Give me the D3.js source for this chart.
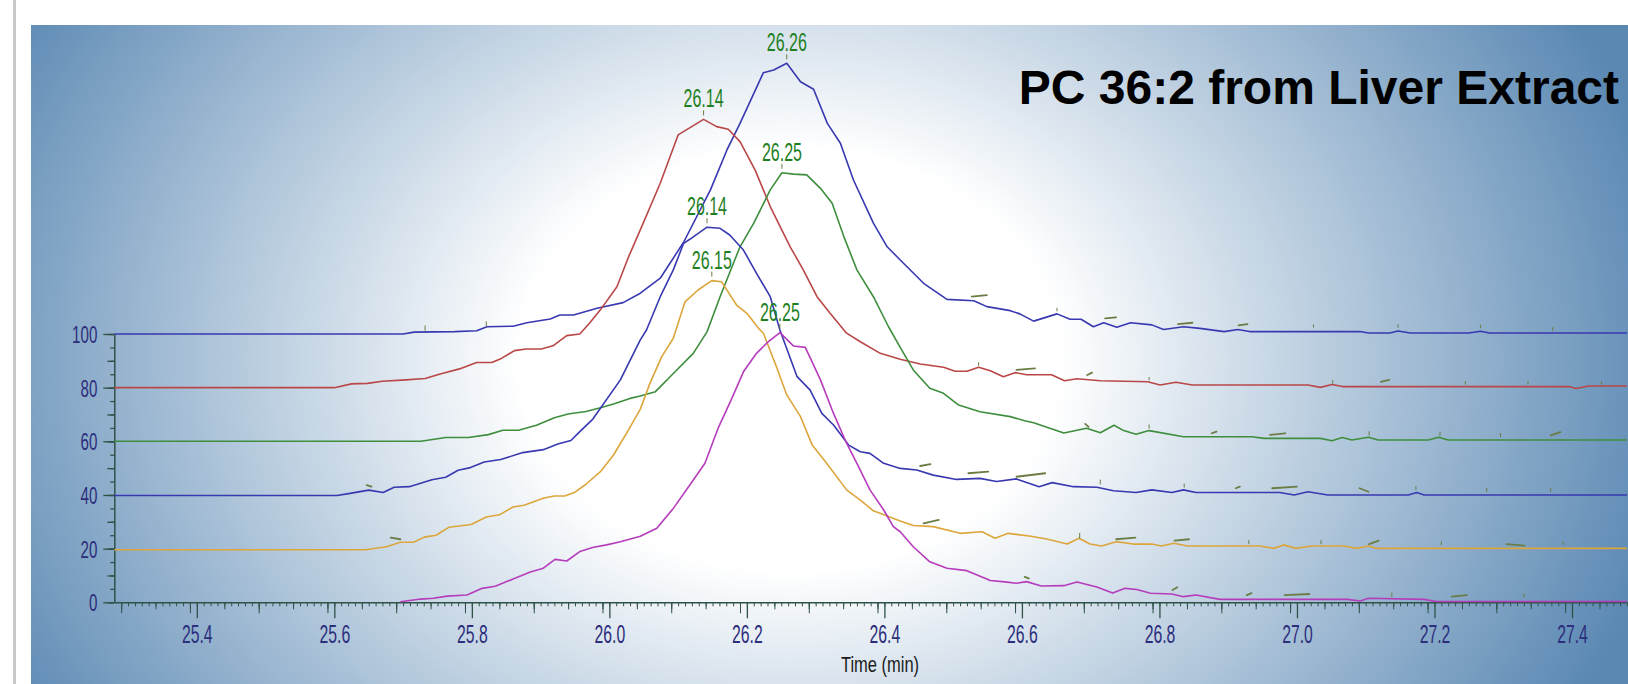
<!DOCTYPE html>
<html>
<head>
<meta charset="utf-8">
<script src="https://cdnjs.cloudflare.com/ajax/libs/d3/7.8.5/d3.min.js"></script>
<style>
  body { margin: 0; background: #fff; }
  svg { display: block; }
</style>
</head>
<body>
<div class="chart"></div>
<script>
// chart values: [time (min), signal]
const blue100 = [[25.28,100],[25.70,100],[25.716,100.7],[25.775,100.9],[25.807,101.2],[25.822,102.7],[25.86,102.9],[25.88,104.2],[25.914,105.6],[25.928,107.1],[25.948,107.1],[25.982,109.6],[26.02,111.7],[26.045,115.2],[26.074,120.8],[26.108,134.2],[26.147,153.7],[26.171,168.6],[26.19,178.5],[26.224,197.4],[26.239,198.4],[26.258,200.9],[26.278,194],[26.297,191.2],[26.317,178.5],[26.336,171.1],[26.355,157.4],[26.384,141.3],[26.404,132.5],[26.423,127.6],[26.457,118.9],[26.491,112.9],[26.53,112.4],[26.549,110.2],[26.583,108.7],[26.597,107.5],[26.617,104.8],[26.651,107.5],[26.67,105.5],[26.686,105.5],[26.704,102.7],[26.719,104.2],[26.738,102.5],[26.758,104.2],[26.789,103.4],[26.806,101.7],[26.835,102.7],[26.859,102.1],[26.894,100.9],[26.914,101.7],[26.931,100.9],[27.092,100.9],[27.104,100.4],[27.135,100.4],[27.147,101.1],[27.165,100.4],[27.25,100.4],[27.267,101],[27.28,100.4],[27.48,100.4]];
const red80 = [[25.28,80],[25.60,80],[25.625,81.4],[25.648,81.6],[25.67,82.4],[25.704,82.9],[25.732,83.4],[25.754,85.1],[25.782,87],[25.807,89.4],[25.829,89.4],[25.843,90.9],[25.862,93.8],[25.879,94.4],[25.901,94.4],[25.918,95.6],[25.938,99.4],[25.957,100],[25.971,104],[25.987,109],[26.011,117.6],[26.028,128.8],[26.045,138.8],[26.074,156.2],[26.1,174.2],[26.137,180],[26.156,177.3],[26.173,176.3],[26.19,171.7],[26.212,161.1],[26.234,147.5],[26.263,132.5],[26.282,123.9],[26.302,113.9],[26.321,107.7],[26.345,100.3],[26.365,97.1],[26.394,92.8],[26.423,90.6],[26.452,88.8],[26.486,87.6],[26.503,86.1],[26.52,86.1],[26.537,87.6],[26.554,86.3],[26.573,84.1],[26.59,85.6],[26.607,84.8],[26.643,84.8],[26.662,82.6],[26.68,83.3],[26.714,82.6],[26.783,82.2],[26.801,81],[26.824,82],[26.848,81],[27.016,81],[27.034,80.1],[27.051,81.2],[27.066,80.4],[27.395,80.4],[27.406,79.7],[27.424,80.6],[27.48,80.6]];
const green60 = [[25.28,60],[25.726,60],[25.762,61.4],[25.795,61.4],[25.824,62.5],[25.845,64.1],[25.868,64.1],[25.894,66],[25.92,68.8],[25.94,70.2],[25.966,71.1],[25.987,72.5],[26.006,73.9],[26.03,76],[26.045,76.9],[26.067,78.5],[26.093,85.3],[26.122,92.8],[26.142,100.8],[26.161,113.9],[26.19,132.5],[26.21,141.3],[26.234,153.7],[26.251,160.1],[26.268,159.6],[26.287,159.3],[26.307,154.3],[26.324,148.7],[26.341,136.3],[26.36,123.9],[26.384,113.9],[26.406,102.7],[26.423,95],[26.442,86.6],[26.466,79.8],[26.486,77.9],[26.508,73.5],[26.539,71],[26.583,69.2],[26.604,67.7],[26.617,66.9],[26.661,63.1],[26.694,64.9],[26.714,63.2],[26.734,66],[26.748,64],[26.766,62.6],[26.785,64],[26.835,61.7],[26.934,61.7],[26.952,61.1],[27.034,61.1],[27.051,60.2],[27.066,61.4],[27.08,60.5],[27.104,61.5],[27.118,60.5],[27.191,60.5],[27.206,61.5],[27.22,60.5],[27.48,60.5]];
const blue40 = [[25.28,39.8],[25.604,39.8],[25.623,40.6],[25.65,41.8],[25.671,40.9],[25.687,42.9],[25.709,43.1],[25.742,45.7],[25.762,46.6],[25.78,49.2],[25.798,50.2],[25.818,52.3],[25.842,53.2],[25.874,55.8],[25.904,56.9],[25.925,59],[25.944,60.3],[25.957,63.6],[25.976,68.3],[26.016,82.9],[26.045,97.8],[26.054,101.5],[26.074,113.9],[26.093,123.9],[26.108,133.8],[26.117,135.3],[26.142,139.8],[26.161,139.4],[26.175,136.9],[26.195,131.3],[26.214,122.6],[26.234,113.9],[26.248,101.5],[26.273,84.1],[26.292,79.1],[26.309,70.4],[26.326,66.1],[26.348,58.6],[26.365,56.1],[26.379,55.5],[26.399,51.8],[26.423,49.9],[26.447,49.3],[26.471,47.4],[26.505,45.8],[26.539,46.2],[26.563,45],[26.592,46],[26.625,43.1],[26.644,44.6],[26.675,43.1],[26.709,42.9],[26.733,41.6],[26.766,40.9],[26.789,41.9],[26.818,40.9],[26.835,41.9],[26.853,40.9],[26.975,40.9],[26.996,40],[27.016,41.2],[27.045,40],[27.162,40],[27.174,40.9],[27.185,40],[27.48,40]];
const orange20 = [[25.28,19.6],[25.645,19.6],[25.676,20.7],[25.696,22.4],[25.715,22.4],[25.731,24.3],[25.748,25],[25.767,28],[25.799,29],[25.821,31.8],[25.84,32.6],[25.86,35.5],[25.876,36.2],[25.905,38.9],[25.92,39.6],[25.935,39.6],[25.949,40.9],[25.966,44],[25.987,48.7],[26.006,54.9],[26.025,63],[26.045,72],[26.059,81.6],[26.076,91.5],[26.093,98.4],[26.11,112],[26.129,116.4],[26.149,119.9],[26.163,119.5],[26.185,110.8],[26.2,107.7],[26.217,102.1],[26.224,100.3],[26.243,87.8],[26.258,77.3],[26.278,69.2],[26.295,58.6],[26.316,51.8],[26.345,41.9],[26.365,38.1],[26.384,34.1],[26.404,32.2],[26.423,30.3],[26.442,28.6],[26.471,28.2],[26.51,25.7],[26.542,26.3],[26.561,23.9],[26.58,25.7],[26.613,24.6],[26.636,23.6],[26.666,21.7],[26.683,23.9],[26.699,21.7],[26.716,21],[26.737,22.6],[26.762,21.7],[26.789,21.7],[26.803,21],[26.821,22],[26.841,21],[26.946,21],[26.966,20.1],[26.981,21.4],[26.998,20.1],[27.022,21],[27.068,21],[27.087,20.1],[27.104,21],[27.116,20.1],[27.48,20.1]];
const magenta0 = [[25.696,0.2],[25.726,1.2],[25.744,1.5],[25.764,2.3],[25.793,2.7],[25.815,5.2],[25.834,6],[25.86,8.7],[25.884,11.2],[25.904,12.7],[25.921,16],[25.938,15.4],[25.957,18.9],[25.977,20.5],[25.996,21.4],[26.016,22.6],[26.045,24.6],[26.069,27.6],[26.093,35],[26.117,43.7],[26.139,51.8],[26.159,65.4],[26.176,74.8],[26.195,85.9],[26.214,92.8],[26.231,97.1],[26.248,100.5],[26.268,95.5],[26.285,95],[26.307,82.9],[26.326,70.4],[26.345,59.3],[26.36,51.8],[26.379,41.9],[26.399,34.4],[26.413,28.2],[26.423,26.3],[26.442,20.7],[26.466,15.1],[26.491,12.7],[26.52,11.8],[26.554,8.1],[26.575,7.6],[26.592,7.1],[26.607,7.7],[26.628,6.1],[26.661,6.2],[26.68,7.6],[26.709,5.7],[26.732,3.5],[26.75,5.2],[26.767,4.8],[26.787,3.4],[26.818,3.1],[26.835,2.1],[26.853,2.7],[26.888,1.1],[27.073,1.1],[27.092,0.5],[27.104,1.5],[27.185,1.1],[27.203,0.3],[27.48,0.3]];

// small peak-detection marks along the traces: [t1, v1, t2, v2]
const markers = [
  [25.732,101.4,25.732,103],[25.821,103,25.821,104.6],[26.527,113.9,26.549,114.5],[26.651,108.6,26.651,109.6],
  [26.721,105.8,26.737,106.2],[26.827,103.7,26.848,104.2],[26.915,103.2,26.928,103.7],[27.024,102.5,27.024,103.4],
  [27.147,102.5,27.147,103.5],[27.267,102.3,27.267,103.3],[27.372,101.2,27.372,102.4],
  [26.537,88.3,26.537,89.3],[26.592,86.6,26.619,87.2],[26.695,84.7,26.702,85.6],[26.785,82.9,26.785,83.8],
  [27.052,81.6,27.052,82.7],[27.122,82.2,27.134,82.9],[27.245,81.3,27.245,82.3],[27.336,81.3,27.336,82.3],[27.443,81.3,27.443,82.3],
  [26.692,66.5,26.697,65.4],[26.785,64.9,26.785,66.1],[26.876,63,26.883,63.6],[26.961,62.4,26.983,63],
  [27.105,62.3,27.105,63.6],[27.208,62.2,27.208,63.4],[27.296,61.7,27.296,62.9],[27.369,62.2,27.383,63.4],
  [25.647,43.7,25.654,43.1],[26.452,50.8,26.467,51.5],[26.522,48.1,26.551,48.7],[26.592,46.8,26.634,48.1],
  [26.714,44.1,26.714,45.6],[26.836,42.9,26.836,44.1],[26.911,42.5,26.917,43.1],[26.964,42.5,27.0,43.1],
  [27.091,42.5,27.104,41.2],[27.173,42,27.173,43.1],[27.276,41.2,27.276,42.4],[27.369,41.2,27.369,42.4],
  [25.682,24.1,25.696,23.5],[26.457,29.4,26.479,30.7],[26.684,23.9,26.684,25.7],[26.737,23.5,26.765,24.1],
  [26.822,23,26.843,23.5],[26.93,21.8,26.93,23],[27.035,21.8,27.035,23],[27.105,21.7,27.119,23],
  [27.21,21.5,27.21,22.6],[27.305,21.7,27.331,21.1],[27.387,21.5,27.387,22.6],
  [26.604,9.5,26.61,8.9],[26.819,4.6,26.826,5.6],[26.927,2.7,26.934,3.4],[26.982,2.7,27.018,3.1],
  [27.138,2.1,27.138,3.5],[27.225,2.1,27.247,2.7],[27.33,2,27.33,3.2],
];

const peakLabels = ["26.26", "26.14", "26.25", "26.14", "26.15", "26.25"];
const xTickLabels = [25.4, 25.6, 25.8, 26.0, 26.2, 26.4, 26.6, 26.8, 27.0, 27.2, 27.4];
const yTickLabels = [0, 20, 40, 60, 80, 100];
const titleText = "PC 36:2 from Liver Extract";
const xTitle = "Time (min)";

// colours
let blueLine = "#3838b0";
let redLine = "#b94747";
let greenLine = "#3e8e3e";
let goldLine = "#dca63c";
let magentaLine = "#b53cbb";
let peakGreen = "#1f801f";
let markColor = "#6b7d45";
let axisColor = "#2f5248";
let tickText = "#2c2e7c";

const series = [
  { values: blue100, color: blueLine },
  { values: red80, color: redLine },
  { values: green60, color: greenLine },
  { values: blue40, color: blueLine },
  { values: orange20, color: goldLine },
  { values: magenta0, color: magentaLine },
];

const width = 1628;
const height = 684;
const font = "'Liberation Sans', Arial, sans-serif";
const squeeze = 0.63;

const svg = d3.select(".chart")
  .append("svg")
  .attr("width", width)
  .attr("height", height);

// background
const defs = svg.append("defs");
const grad = defs.append("radialGradient")
  .attr("id", "bg")
  .attr("gradientUnits", "userSpaceOnUse")
  .attr("cx", 790).attr("cy", 360).attr("r", 900)
  .attr("fx", 790).attr("fy", 360)
  .attr("gradientTransform", "translate(790,360) scale(1,0.78) translate(-790,-360)");
grad.append("stop").attr("offset", "0").attr("stop-color", "#ffffff");
grad.append("stop").attr("offset", "0.3").attr("stop-color", "#ffffff");
grad.append("stop").attr("offset", "1").attr("stop-color", "#5a88b3");

svg.append("rect")
  .attr("x", 13).attr("y", 0).attr("width", 3).attr("height", height)
  .attr("fill", "#c8c8c8");

svg.append("rect")
  .attr("x", 31).attr("y", 25)
  .attr("width", width - 31).attr("height", height - 25)
  .attr("fill", "url(#bg)");

// scales
const xScale = d3.scaleLinear().domain([25.28, 27.48]).range([114.3, 1627]);
const yScale = d3.scaleLinear().domain([0, 100]).range([602.3, 334]);

// x axis, four tick levels
const minorLevels = [
  { step: 1, size: 4 },
  { step: 5, size: 7 },
  { step: 10, size: 11 },
];
minorLevels.forEach((lvl) => {
  const vals = d3.range(2529, 2749, lvl.step).map((d) => d / 100);
  svg.append("g")
    .attr("transform", `translate(0, ${yScale(0)})`)
    .call(d3.axisBottom(xScale).tickValues(vals).tickSize(lvl.size).tickFormat(""))
    .call((g) => g.select(".domain").remove())
    .selectAll(".tick line")
    .attr("stroke", axisColor);
});

const xAxis = svg.append("g")
  .attr("class", "xaxis")
  .attr("transform", `translate(0, ${yScale(0)})`)
  .call(d3.axisBottom(xScale)
    .tickValues(xTickLabels)
    .tickSize(16)
    .tickSizeOuter(0)
    .tickPadding(7)
    .tickFormat(d3.format(".1f")));

xAxis.select(".domain").attr("stroke", axisColor).attr("stroke-width", 1.5);
xAxis.selectAll(".tick line").attr("stroke", axisColor).attr("stroke-width", 1.3);
xAxis.selectAll(".tick text")
  .attr("fill", tickText)
  .attr("transform", `scale(${squeeze},1)`)
  .style("font-family", font)
  .style("font-size", "25px");

// y axis
[{ step: 5, size: 4 }, { step: 10, size: 7 }].forEach((lvl) => {
  svg.append("g")
    .attr("transform", `translate(${xScale.range()[0]}, 0)`)
    .call(d3.axisLeft(yScale).tickValues(d3.range(0, 101, lvl.step)).tickSize(lvl.size).tickFormat(""))
    .call((g) => g.select(".domain").remove())
    .selectAll(".tick line")
    .attr("stroke", axisColor)
    .attr("stroke-width", 1.3);
});

const yAxis = svg.append("g")
  .attr("class", "yaxis")
  .attr("transform", `translate(${xScale.range()[0]}, 0)`)
  .call(d3.axisLeft(yScale)
    .tickValues(yTickLabels)
    .tickSize(11)
    .tickSizeOuter(0)
    .tickFormat(d3.format("d")));

yAxis.select(".domain").attr("stroke", axisColor).attr("stroke-width", 1.5);
yAxis.selectAll(".tick line").attr("stroke", axisColor).attr("stroke-width", 1.3);
yAxis.selectAll(".tick text")
  .attr("x", 0)
  .attr("dy", "0.35em")
  .attr("transform", `translate(-17,0) scale(${squeeze},1)`)
  .attr("fill", tickText)
  .style("font-family", font)
  .style("font-size", "24px");

// traces
const line = d3.line()
  .x((d) => xScale(d[0]))
  .y((d) => yScale(d[1]));

svg.selectAll(".trace")
  .data(series)
  .enter()
  .append("path")
  .attr("class", "trace")
  .attr("d", (d) => line(d.values))
  .attr("fill", "none")
  .attr("stroke", (d) => d.color)
  .attr("stroke-width", 1.6)
  .attr("stroke-linejoin", "round");

// little olive marks
svg.selectAll(".mark")
  .data(markers)
  .enter()
  .append("line")
  .attr("class", "mark")
  .attr("x1", (d) => xScale(d[0]))
  .attr("y1", (d) => yScale(d[1]))
  .attr("x2", (d) => xScale(d[2]))
  .attr("y2", (d) => yScale(d[3]))
  .attr("stroke", markColor)
  .attr("stroke-width", (d) => (d[0] === d[2] ? 1 : 1.8))
  .attr("stroke-linecap", "round");

// peak apex labels
series.forEach((s, i) => {
  const top = d3.greatest(s.values, (d) => d[1]);
  const px = xScale(top[0]);
  const py = yScale(top[1]);

  svg.append("line")
    .attr("x1", px).attr("x2", px)
    .attr("y1", py - 9).attr("y2", py - 4)
    .attr("stroke", markColor)
    .attr("stroke-width", 1);

  svg.append("text")
    .attr("transform", `translate(${px}, ${py - 12}) scale(0.64,1)`)
    .attr("text-anchor", "middle")
    .attr("fill", peakGreen)
    .style("font-family", font)
    .style("font-size", "25px")
    .text(peakLabels[i]);
});

// axis title
svg.append("text")
  .attr("transform", `translate(880, 672) scale(0.75,1)`)
  .attr("text-anchor", "middle")
  .attr("fill", "#1c1c1c")
  .style("font-family", font)
  .style("font-size", "22px")
  .text(xTitle);

// chart title
svg.append("text")
  .attr("x", 1619)
  .attr("y", 104)
  .attr("text-anchor", "end")
  .attr("fill", "#000")
  .style("font-family", font)
  .style("font-size", "48px")
  .style("font-weight", "bold")
  .text(titleText);
</script>
</body>
</html>
